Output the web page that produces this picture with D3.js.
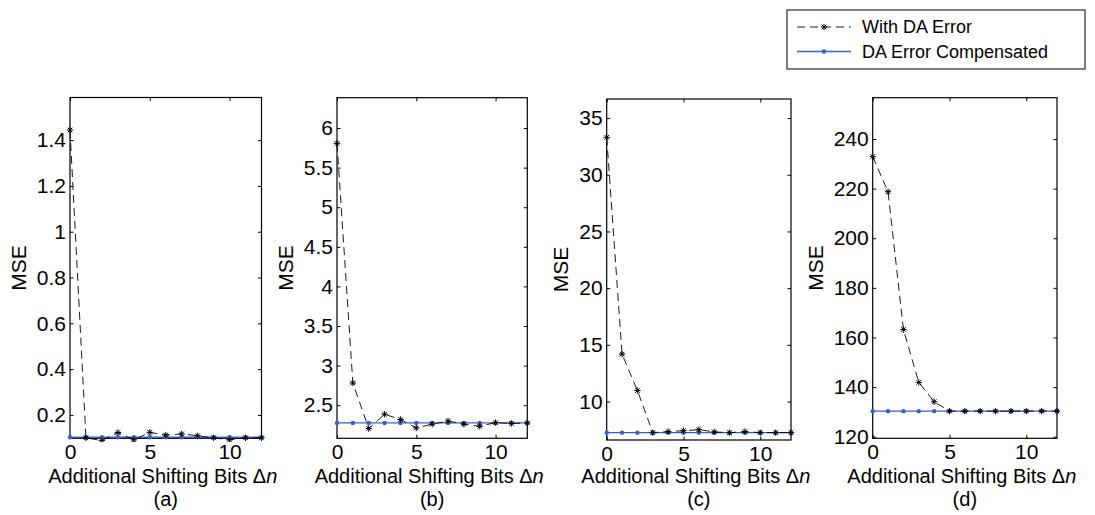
<!DOCTYPE html>
<html>
<head>
<meta charset="utf-8">
<script src="https://cdn.jsdelivr.net/npm/d3@7"></script>
<style>
  body { margin: 0; background: #fff; }
  text { font-family: "Liberation Sans", Arial, sans-serif; fill: #000; }
</style>
</head>
<body>
<svg id="chart" width="1095" height="515"></svg>
<script>
// Data
const shiftBits = [0, 1, 2, 3, 4, 5, 6, 7, 8, 9, 10, 11, 12];
const panelNames = ['(a)', '(b)', '(c)', '(d)'];

const withErrA = [1.444, 0.10, 0.088, 0.123, 0.091, 0.124, 0.112, 0.117, 0.109, 0.10, 0.091, 0.10, 0.10];
const compA    = [0.1026, 0.1026, 0.1026, 0.1026, 0.1026, 0.1026, 0.1026, 0.1026, 0.1026, 0.1026, 0.1026, 0.1026, 0.1026];
const withErrB = [5.806, 2.78, 2.205, 2.386, 2.32, 2.213, 2.26, 2.30, 2.26, 2.234, 2.28, 2.268, 2.276];
const compB    = [2.276, 2.276, 2.276, 2.276, 2.276, 2.276, 2.276, 2.276, 2.276, 2.276, 2.276, 2.276, 2.276];
const withErrC = [33.3, 14.18, 10.97, 7.26, 7.35, 7.43, 7.52, 7.32, 7.26, 7.35, 7.26, 7.26, 7.26];
const compC    = [7.26, 7.26, 7.26, 7.26, 7.26, 7.26, 7.26, 7.26, 7.26, 7.26, 7.26, 7.26, 7.26];
const withErrD = [232.9, 218.75, 163.2, 141.9, 134.1, 130.3, 130.3, 130.3, 130.3, 130.3, 130.3, 130.3, 130.3];
const compD    = [130.3, 130.3, 130.3, 130.3, 130.3, 130.3, 130.3, 130.3, 130.3, 130.3, 130.3, 130.3, 130.3];

const yTicksA = [0.2, 0.4, 0.6, 0.8, 1, 1.2, 1.4];
const yTicksB = [2.5, 3, 3.5, 4, 4.5, 5, 5.5, 6];
const yTicksC = [10, 15, 20, 25, 30, 35];
const yTicksD = [120, 140, 160, 180, 200, 220, 240];
const xTicks = [0, 5, 10];

const yDomains = [[0.098, 1.586], [2.082, 6.383], [6.61, 36.68], [119.35, 256.65]];
const legendLabels = ['With DA Error', 'DA Error Compensated'];

// layout (pixels) for each panel
const layout = [
  { left: 70,    right: 261.5, top: 97.5, bottom: 438.3, ylab: 51.5 },
  { left: 337,   right: 527.3, top: 97.7, bottom: 438.3, ylab: 51.5 },
  { left: 606.7, right: 791,   top: 99,   bottom: 440,   ylab: 46 },
  { left: 872.7, right: 1057,  top: 97.7, bottom: 438.3, ylab: 56.7 }
];

const panels = [
  { err: withErrA, comp: compA, ticks: yTicksA },
  { err: withErrB, comp: compB, ticks: yTicksB },
  { err: withErrC, comp: compC, ticks: yTicksC },
  { err: withErrD, comp: compD, ticks: yTicksD }
];

const blue = '#3c5fc0';
const fontSize = '21px';
const labelSize = '20px';
const svg = d3.select('#chart');
const tickLen = 3.5;

// MATLAB style '*' marker: plus + cross
const starPath = r => {
  const d = r * 0.72;
  return `M${-r},0L${r},0M0,${-r}L0,${r}M${-d},${-d}L${d},${d}M${-d},${d}L${d},${-d}`;
};

panels.forEach((p, i) => {
  const L = layout[i];
  const x = d3.scaleLinear().domain([0, 12]).range([L.left, L.right]);
  const y = d3.scaleLinear().domain(yDomains[i]).range([L.bottom, L.top]);
  const g = svg.append('g');

  const clipId = 'clip' + i;
  svg.append('clipPath').attr('id', clipId)
    .append('rect')
      .attr('x', L.left - 6).attr('y', L.top)
      .attr('width', L.right - L.left + 12).attr('height', L.bottom - L.top + 4);

  // axes: left + bottom with labels, mirrored ticks inward
  const yAxisL = g.append('g').attr('transform', `translate(${L.left},0)`)
    .call(d3.axisLeft(y).tickValues(p.ticks).tickSize(-tickLen).tickPadding(4).tickFormat(d3.format('')));
  const yAxisR = g.append('g').attr('transform', `translate(${L.right},0)`)
    .call(d3.axisRight(y).tickValues(p.ticks).tickSize(-tickLen).tickFormat(''));
  const xAxisB = g.append('g').attr('transform', `translate(0,${L.bottom})`)
    .call(d3.axisBottom(x).tickValues(xTicks).tickSize(-tickLen).tickPadding(7));
  const xAxisT = g.append('g').attr('transform', `translate(0,${L.top})`)
    .call(d3.axisTop(x).tickValues(xTicks).tickSize(-tickLen).tickFormat(''));

  [yAxisL, yAxisR, xAxisB, xAxisT].forEach(a => {
    a.select('.domain').remove();
    a.selectAll('.tick line').attr('stroke', '#000');
    a.selectAll('text').style('font-size', fontSize).attr('fill', '#000')
      .style('font-family', '"Liberation Sans", Arial, sans-serif');
  });
  xAxisB.selectAll('text').attr('dy', '0.66em');

  g.append('rect')
    .attr('x', L.left).attr('y', L.top)
    .attr('width', L.right - L.left).attr('height', L.bottom - L.top)
    .attr('fill', 'none').attr('stroke', '#000').attr('stroke-width', 1.2);

  const plot = g.append('g').attr('clip-path', `url(#${clipId})`);

  // compensated series (blue, solid, dots)
  plot.append('path')
    .datum(p.comp)
    .attr('fill', 'none').attr('stroke', blue).attr('stroke-width', 1.3)
    .attr('d', d3.line().x((d, j) => x(shiftBits[j])).y(d => y(d)));
  plot.selectAll('.dot').data(p.comp).enter().append('circle')
    .attr('cx', (d, j) => x(shiftBits[j])).attr('cy', d => y(d))
    .attr('r', 2.2).attr('fill', blue);

  // with DA error (black dashed, star markers)
  plot.append('path')
    .datum(p.err)
    .attr('fill', 'none').attr('stroke', '#000').attr('stroke-width', 0.9)
    .attr('stroke-dasharray', '8,5')
    .attr('d', d3.line().x((d, j) => x(shiftBits[j])).y(d => y(d)));
  plot.selectAll('.star').data(p.err).enter().append('path')
    .attr('transform', (d, j) => `translate(${x(shiftBits[j])},${y(d)})`)
    .attr('d', starPath(3.2))
    .attr('stroke', '#000').attr('stroke-width', 1).attr('fill', 'none');

  // axis labels
  const cx = (L.left + L.right) / 2;
  g.append('text')
    .attr('transform', `translate(${L.left - L.ylab},${(L.top + L.bottom) / 2}) rotate(-90)`)
    .attr('text-anchor', 'middle').attr('dy', '0.35em')
    .style('font-size', fontSize).text('MSE');

  const xl = g.append('text')
    .attr('x', cx - 3).attr('y', 483)
    .attr('text-anchor', 'middle').style('font-size', labelSize);
  xl.append('tspan').text('Additional Shifting Bits \u0394');
  xl.append('tspan').style('font-style', 'italic').text('n');

  g.append('text')
    .attr('x', cx).attr('y', 505.5)
    .attr('text-anchor', 'middle').style('font-size', labelSize)
    .text(panelNames[i]);
});

// legend
const lg = svg.append('g');
lg.append('rect')
  .attr('x', 787).attr('y', 10).attr('width', 298).attr('height', 59)
  .attr('fill', '#fff').attr('stroke', '#000').attr('stroke-width', 1);

const legY = [27, 51.5];
const x0 = 797, x1 = 851;
lg.append('line')
  .attr('x1', x0).attr('x2', x1).attr('y1', legY[0]).attr('y2', legY[0])
  .attr('stroke', '#000').attr('stroke-width', 0.9).attr('stroke-dasharray', '8,5');
lg.append('path')
  .attr('transform', `translate(${(x0 + x1) / 2},${legY[0]})`)
  .attr('d', starPath(3.2)).attr('stroke', '#000').attr('fill', 'none');
lg.append('line')
  .attr('x1', x0).attr('x2', x1).attr('y1', legY[1]).attr('y2', legY[1])
  .attr('stroke', blue).attr('stroke-width', 1.3);
lg.append('circle')
  .attr('cx', (x0 + x1) / 2).attr('cy', legY[1]).attr('r', 2.2).attr('fill', blue);

legendLabels.forEach((t, i) => {
  lg.append('text')
    .attr('x', 862).attr('y', legY[i]).attr('dy', '0.35em')
    .style('font-size', '18px').text(t);
});
</script>
</body>
</html>
